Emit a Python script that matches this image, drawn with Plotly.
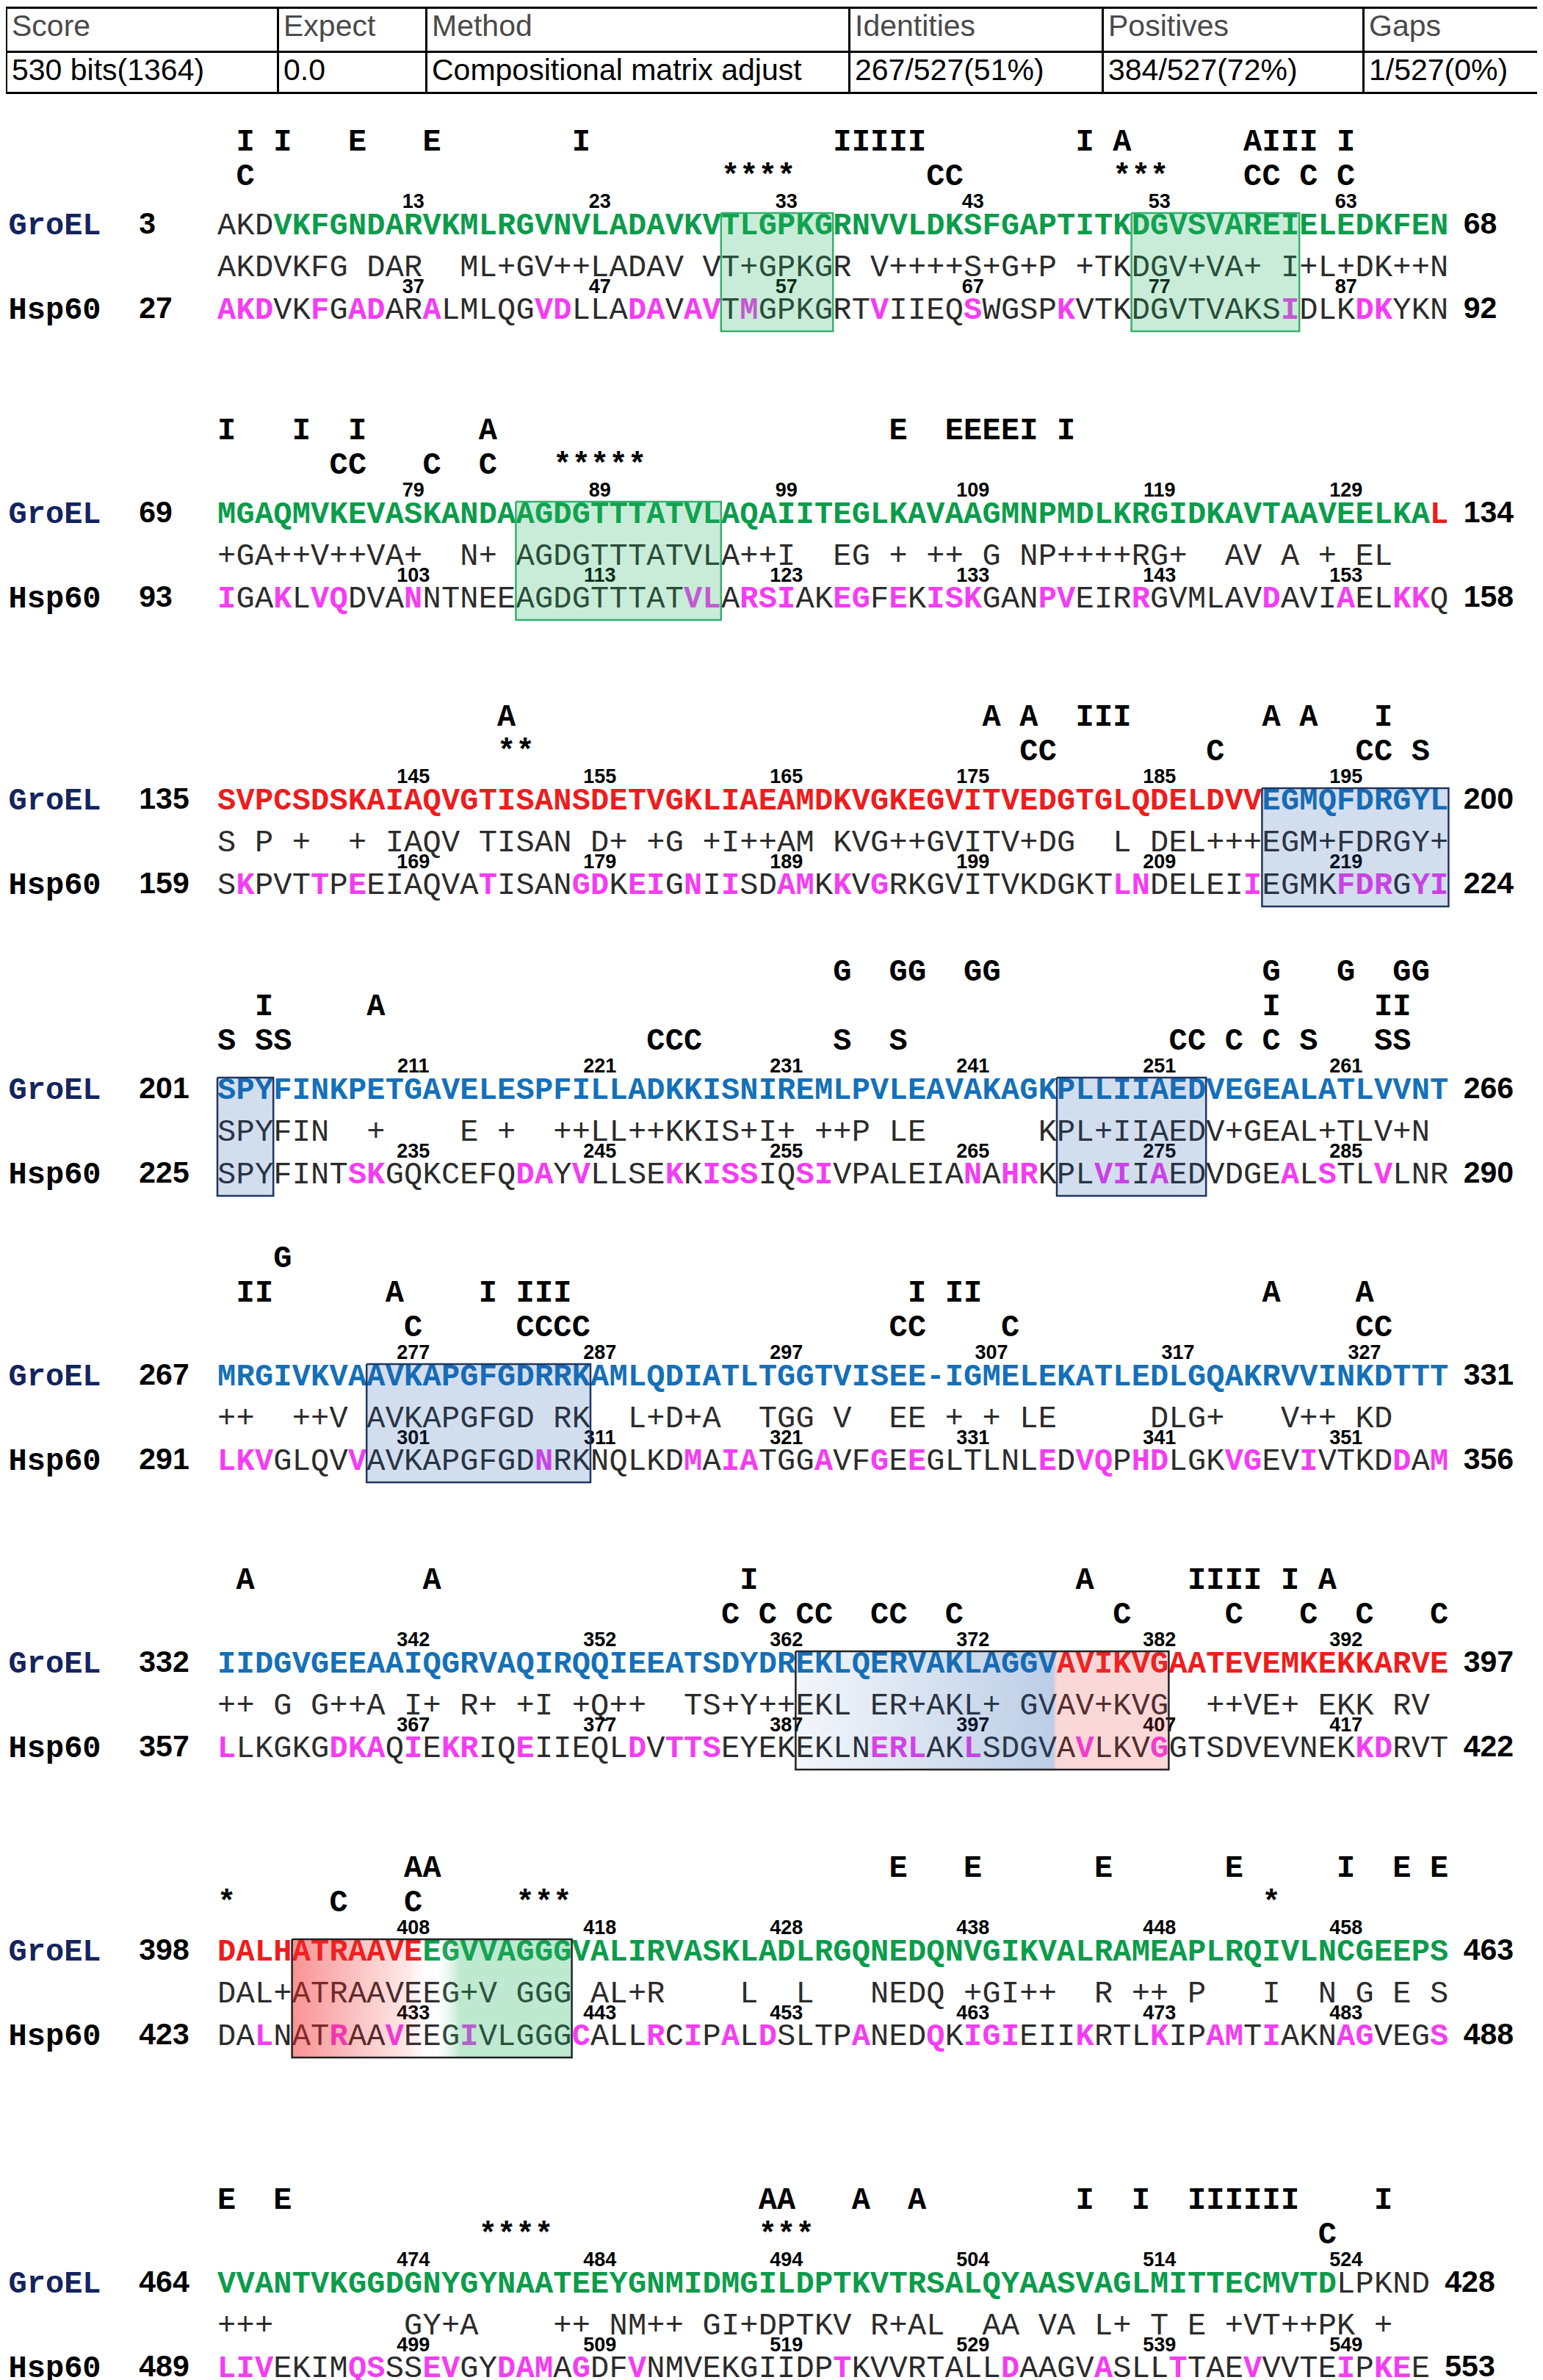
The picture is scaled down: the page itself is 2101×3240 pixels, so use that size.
import plotly.graph_objects as go

# ---- data ----
table_head = ["Score", "Expect", "Method", "Identities", "Positives", "Gaps"]
table_vals = ["530 bits(1364)", "0.0", "Compositional matrix adjust",
              "267/527(51%)", "384/527(72%)", "1/527(0%)"]

groel_seq = [
    "AKDVKFGNDARVKMLRGVNVLADAVKVTLGPKGRNVVLDKSFGAPTITKDGVSVAREIELEDKFEN",
    "MGAQMVKEVASKANDAAGDGTTTATVLAQAIITEGLKAVAAGMNPMDLKRGIDKAVTAAVEELKAL",
    "SVPCSDSKAIAQVGTISANSDETVGKLIAEAMDKVGKEGVITVEDGTGLQDELDVVEGMQFDRGYL",
    "SPYFINKPETGAVELESPFILLADKKISNIREMLPVLEAVAKAGKPLLIIAEDVEGEALATLVVNT",
    "MRGIVKVAAVKAPGFGDRRKAMLQDIATLTGGTVISEE-IGMELEKATLEDLGQAKRVVINKDTTT",
    "IIDGVGEEAAIQGRVAQIRQQIEEATSDYDREKLQERVAKLAGGVAVIKVGAATEVEMKEKKARVE",
    "DALHATRAAVEEGVVAGGGVALIRVASKLADLRGQNEDQNVGIKVALRAMEAPLRQIVLNCGEEPS",
    "VVANTVKGGDGNYGYNAATEEYGNMIDMGILDPTKVTRSALQYAASVAGLMITTECMVTDLPKND",
]
hsp60_seq = [
    "AKDVKFGADARALMLQGVDLLADAVAVTMGPKGRTVIIEQSWGSPKVTKDGVTVAKSIDLKDKYKN",
    "IGAKLVQDVANNTNEEAGDGTTTATVLARSIAKEGFEKISKGANPVEIRRGVMLAVDAVIAELKKQ",
    "SKPVTTPEEIAQVATISANGDKEIGNIISDAMKKVGRKGVITVKDGKTLNDELEIIEGMKFDRGYI",
    "SPYFINTSKGQKCEFQDAYVLLSEKKISSIQSIVPALEIANAHRKPLVIIAEDVDGEALSTLVLNR",
    "LKVGLQVVAVKAPGFGDNRKNQLKDMAIATGGAVFGEEGLTLNLEDVQPHDLGKVGEVIVTKDDAM",
    "LLKGKGDKAQIEKRIQEIIEQLDVTTSEYEKEKLNERLAKLSDGVAVLKVGGTSDVEVNEKKDRVT",
    "DALNATRAAVEEGIVLGGGCALLRCIPALDSLTPANEDQKIGIEIIKRTLKIPAMTIAKNAGVEGS",
    "LIVEKIMQSSSEVGYDAMAGDFVNMVEKGIIDPTKVVRTALLDAAGVASLLTTAEVVVTEIPKEE",
]
match_seq = [
    "AKDVKFG DAR  ML+GV++LADAV VT+GPKGR V++++S+G+P +TKDGV+VA+ I+L+DK++N",
    "+GA++V++VA+  N+ AGDGTTTATVLA++I  EG + ++ G NP++++RG+  AV A + EL",
    "S P +  + IAQV TISAN D+ +G +I++AM KVG++GVITV+DG  L DEL+++EGM+FDRGY+",
    "SPYFIN  +    E +  ++LL++KKIS+I+ ++P LE      KPL+IIAEDV+GEAL+TLV+N",
    "++  ++V AVKAPGFGD RK  L+D+A  TGG V  EE + + LE     DLG+   V++ KD",
    "++ G G++A I+ R+ +I +Q++  TS+Y++EKL ER+AKL+ GVAV+KVG  ++VE+ EKK RV",
    "DAL+ATRAAVEEG+V GGG AL+R    L  L   NEDQ +GI++  R ++ P   I  N G E S",
    "+++       GY+A    ++ NM++ GI+DPTKV R+AL  AA VA L+ T E +VT++PK +",
]
groel_start = [3, 69, 135, 201, 267, 332, 398, 464]
groel_end = [68, 134, 200, 266, 331, 397, 463, 428]
hsp60_start = [27, 93, 159, 225, 291, 357, 423, 489]
hsp60_end = [92, 158, 224, 290, 356, 422, 488, 553]

# colour runs along each GroEL line
groel_runs = [
    [("plain", 3), ("green", 63)],
    [("green", 65), ("red", 1)],
    [("red", 56), ("blue", 10)],
    [("blue", 66)],
    [("blue", 66)],
    [("blue", 45), ("red", 21)],
    [("red", 11), ("green", 55)],
    [("green", 60), ("plain", 5)],
]

# Hsp60 residues printed in bold magenta (column index within the line)
hsp60_marked = [
    [0, 1, 2, 5, 7, 8, 11, 17, 18, 22, 23, 25, 26, 28, 35, 40, 45, 57, 61, 62],
    [0, 3, 5, 6, 10, 25, 26, 28, 29, 30, 33, 34, 36, 38, 39, 40, 44, 45, 49, 56, 60, 63, 64],
    [1, 5, 7, 14, 19, 20, 22, 23, 25, 27, 30, 31, 33, 35, 48, 49, 55, 60, 61, 62, 64, 65],
    [7, 8, 16, 17, 19, 24, 26, 27, 28, 31, 32, 40, 42, 43, 47, 48, 50, 57, 59, 62],
    [0, 1, 2, 7, 17, 25, 27, 28, 32, 35, 37, 44, 46, 47, 49, 50, 54, 55, 58, 63, 65],
    [0, 6, 7, 8, 10, 12, 13, 16, 22, 24, 25, 26, 35, 36, 37, 40, 46, 50, 61, 62],
    [2, 6, 9, 13, 19, 23, 25, 27, 29, 34, 38, 40, 41, 42, 46, 50, 53, 54, 56, 60, 61, 65],
    [0, 1, 2, 7, 8, 11, 12, 15, 16, 17, 19, 22, 33, 42, 47, 51, 55, 60, 62, 63],
]

# site letters above GroEL, rows top to bottom, (column, letters)
site_rows = [
    [[(1, "I"), (3, "I"), (7, "E"), (11, "E"), (19, "I"), (33, "IIIII"), (46, "I"), (48, "A"), (55, "AIII"), (60, "I")],
     [(1, "C"), (27, "****"), (38, "CC"), (48, "***"), (55, "CC"), (58, "C"), (60, "C")]],
    [[(0, "I"), (4, "I"), (7, "I"), (14, "A"), (36, "E"), (39, "EEEEI"), (45, "I")],
     [(6, "CC"), (11, "C"), (14, "C"), (18, "*****")]],
    [[(15, "A"), (41, "A"), (43, "A"), (46, "III"), (56, "A"), (58, "A"), (62, "I")],
     [(15, "**"), (43, "CC"), (53, "C"), (61, "CC"), (64, "S")]],
    [[(33, "G"), (36, "GG"), (40, "GG"), (56, "G"), (60, "G"), (63, "GG")],
     [(2, "I"), (8, "A"), (56, "I"), (62, "II")],
     [(0, "S"), (2, "SS"), (23, "CCC"), (33, "S"), (36, "S"), (51, "CC"), (54, "C"), (56, "C"), (58, "S"), (62, "SS")]],
    [[(3, "G")],
     [(1, "II"), (9, "A"), (14, "I"), (16, "III"), (37, "I"), (39, "II"), (56, "A"), (61, "A")],
     [(10, "C"), (16, "CCCC"), (36, "CC"), (42, "C"), (61, "CC")]],
    [[(1, "A"), (11, "A"), (28, "I"), (46, "A"), (52, "IIII"), (57, "I"), (59, "A")],
     [(27, "C"), (29, "C"), (31, "CC"), (35, "CC"), (39, "C"), (48, "C"), (54, "C"), (58, "C"), (61, "C"), (65, "C")]],
    [[(10, "AA"), (36, "E"), (40, "E"), (47, "E"), (54, "E"), (60, "I"), (63, "E"), (65, "E")],
     [(0, "*"), (6, "C"), (10, "C"), (16, "***"), (56, "*")]],
    [[(0, "E"), (3, "E"), (29, "AA"), (34, "A"), (37, "A"), (46, "I"), (49, "I"), (52, "IIIIII"), (62, "I")],
     [(14, "****"), (29, "***"), (59, "C")]],
]

# highlighted regions: first column, last column, style
regions = [
    [(27, 32, "green"), (49, 57, "green")],
    [(16, 26, "green")],
    [(56, 65, "blue")],
    [(0, 2, "blue"), (45, 52, "blue")],
    [(8, 19, "blue")],
    [(31, 50, "blue_red")],
    [(4, 18, "red_green")],
    [],
]

# ---- styling / layout ----
W, H = 2101, 3240
X0, CW = 288, 25.4          # pixel of column 0 and pixel width of a column
block_y = [300, 693, 1083, 1477, 1867, 2258, 2650, 3102]   # GroEL line of each block

MONO = "Liberation Mono"
SANS = "Liberation Sans"
SEQ_SIZE = 42
COLORS = {"green": "#0a9c4a", "red": "#ee1c1c", "blue": "#1470b8", "plain": "#2b2b2b"}
MAGENTA = "#f43cf4"
GREY = "#2b2b2b"


def columns_of(seq, start):
    """column of every 10th residue number in a line"""
    out = []
    k = 0
    for c, ch in enumerate(seq):
        if ch == "-":
            continue
        if k > 0 and k % 10 == 0:
            out.append((c, start + k))
        k += 1
    return out


bold = dict(x=[], y=[], text=[], color=[])
thin = dict(x=[], y=[], text=[], color=[])
nums = dict(x=[], y=[], text=[])


def put(store, col, y, ch, color=None):
    if ch == " ":
        return
    store["x"].append(col + 0.5)
    store["y"].append(y)
    store["text"].append(ch)
    if color is not None:
        store["color"].append(color)


for b in range(len(groel_seq)):
    yg = block_y[b]
    # site rows
    rows = site_rows[b]
    for i, row in enumerate(rows):
        yr = yg - 67 - 47 * (len(rows) - 1 - i)
        for col, letters in row:
            for j, ch in enumerate(letters):
                put(bold, col + j, yr, ch, "black")
    # GroEL line
    codes = []
    for name, n in groel_runs[b]:
        codes += [name] * n
    for c, ch in enumerate(groel_seq[b]):
        put(bold if codes[c] != "plain" else thin, c, yg, ch, COLORS[codes[c]])
    # middle line
    for c, ch in enumerate(match_seq[b]):
        put(thin, c, yg + 57, ch, GREY)
    # Hsp60 line
    for c, ch in enumerate(hsp60_seq[b]):
        if c in hsp60_marked[b]:
            put(bold, c, yg + 115, ch, MAGENTA)
        else:
            put(thin, c, yg + 115, ch, GREY)
    # residue numbers
    for c, lab in columns_of(groel_seq[b], groel_start[b]):
        put(nums, c, yg - 32, str(lab))
    for c, lab in columns_of(hsp60_seq[b], hsp60_start[b]):
        put(nums, c, yg + 84, str(lab))

fig = go.Figure()

fig.add_trace(go.Table(
    domain=dict(x=[0, 1], y=[1 - 124 / H, 1 - 2 / H]),
    columnwidth=[370, 202, 576, 345, 355, 253],
    header=dict(values=table_head, align="left", height=60, fill_color="white",
                line=dict(color="black", width=3),
                font=dict(family=SANS, size=41, color="#4a4a4a")),
    cells=dict(values=[[v] for v in table_vals], align="left", height=56, fill_color="white",
               line=dict(color="black", width=3),
               font=dict(family=SANS, size=41, color="black")),
))

fig.add_trace(go.Scatter(x=thin["x"], y=thin["y"], text=thin["text"], mode="text",
                         textposition="middle center", hoverinfo="skip",
                         textfont=dict(family=MONO, size=SEQ_SIZE, color=thin["color"])))
fig.add_trace(go.Scatter(x=bold["x"], y=bold["y"], text=bold["text"], mode="text",
                         textposition="middle center", hoverinfo="skip",
                         textfont=dict(family=MONO, size=SEQ_SIZE, color=bold["color"], weight="bold")))
fig.add_trace(go.Scatter(x=nums["x"], y=nums["y"], text=nums["text"], mode="text",
                         textposition="middle center", hoverinfo="skip",
                         textfont=dict(family=SANS, size=27, color="black", weight="bold")))

# row labels and end numbers
lab_x, lab_y, lab_t, lab_c = [], [], [], []
num_x, num_y, num_t = [], [], []
for b in range(len(groel_seq)):
    yg = block_y[b]
    n = len(groel_seq[b])
    for name, col, y in (("GroEL", "#14245e", yg), ("Hsp60", "black", yg + 115)):
        lab_x.append(-11.2)
        lab_y.append(y)
        lab_t.append(name)
        lab_c.append(col)
    for val, y in ((groel_start[b], yg), (hsp60_start[b], yg + 115)):
        num_x.append(-4.2)
        num_y.append(y)
        num_t.append(str(val))
    for val, y in ((groel_end[b], yg), (hsp60_end[b], yg + 115)):
        num_x.append(n + 0.8)
        num_y.append(y)
        num_t.append(str(val))

fig.add_trace(go.Scatter(x=lab_x, y=lab_y, text=lab_t, mode="text", textposition="middle right",
                         hoverinfo="skip",
                         textfont=dict(family=MONO, size=42, color=lab_c, weight="bold")))
fig.add_trace(go.Scatter(x=num_x, y=num_y, text=num_t, mode="text", textposition="middle right",
                         hoverinfo="skip",
                         textfont=dict(family=SANS, size=41, color="black", weight="bold")))

# shaded regions, laid over the letters
for b in range(len(regions)):
    yg = block_y[b]
    top, bot = yg - 18, yg + 143
    for c0, c1, kind in regions[b]:
        xs = [c0, c1 + 1, c1 + 1, c0, c0]
        ys = [top, top, bot, bot, top]
        tr = go.Scatter(x=xs, y=ys, mode="lines", fill="toself", hoverinfo="skip")
        if kind == "green":
            tr.update(fillcolor="rgba(40,180,100,0.25)", line=dict(color="#35b06c", width=2.5))
        elif kind == "blue":
            tr.update(fillcolor="rgba(30,90,170,0.2)", line=dict(color="#1f355f", width=2.5))
        elif kind == "blue_red":
            tr.update(line=dict(color="#222222", width=2.5),
                      fillgradient=dict(type="horizontal", colorscale=[
                          [0.0, "rgba(30,90,170,0.05)"], [0.69, "rgba(30,90,170,0.3)"],
                          [0.70, "rgba(235,60,60,0.2)"], [1.0, "rgba(235,60,60,0.2)"]]))
        else:
            tr.update(line=dict(color="#222222", width=2.5),
                      fillgradient=dict(type="horizontal", colorscale=[
                          [0.0, "rgba(240,40,40,0.5)"], [0.42, "rgba(240,40,40,0.1)"],
                          [0.5, "rgba(255,255,255,0)"], [0.6, "rgba(40,180,100,0.3)"],
                          [1.0, "rgba(40,180,100,0.3)"]]))
        fig.add_trace(tr)

fig.update_layout(
    width=W, height=H, margin=dict(l=0, r=0, t=0, b=0),
    paper_bgcolor="white", plot_bgcolor="white", showlegend=False,
    xaxis=dict(range=[-X0 / CW, (W - X0) / CW], visible=False, fixedrange=True),
    yaxis=dict(range=[H, 0], visible=False, fixedrange=True),
)

fig.write_html("out.html")
